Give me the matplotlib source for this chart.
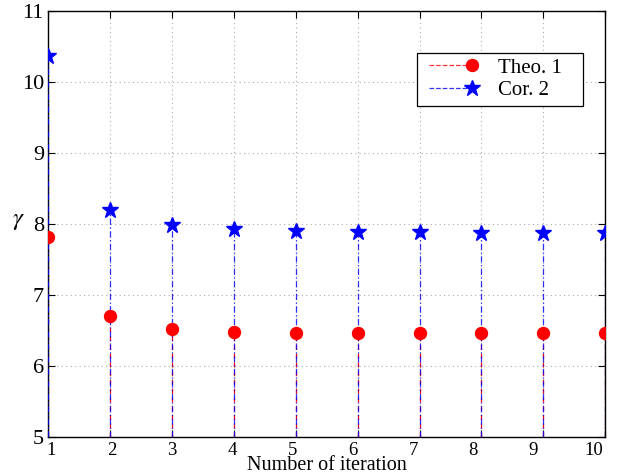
import matplotlib
matplotlib.use("Agg")
import matplotlib.pyplot as plt
import matplotlib.transforms as mtrans
from matplotlib.lines import Line2D
from matplotlib.legend_handler import HandlerLine2D

iterations = [1, 2, 3, 4, 5, 6, 7, 8, 9, 10]
theo1 = [7.82, 6.70, 6.52, 6.48, 6.47, 6.46, 6.46, 6.46, 6.46, 6.46]
cor2 = [10.36, 8.19, 7.99, 7.93, 7.90, 7.89, 7.88, 7.87, 7.87, 7.87]
yticks = [5, 6, 7, 8, 9, 10, 11]
xticklabels = [str(v) for v in iterations]

plt.rcParams['font.family'] = ['Liberation Serif', 'DejaVu Serif']
plt.rcParams['mathtext.fontset'] = 'stix'

fig = plt.figure(figsize=(6.24, 4.76), dpi=100)
ax = fig.add_axes([0.077, 0.082, 0.893, 0.895])

base = 5
for x, y in zip(iterations, theo1):
    ax.plot([x, x], [base, y], color='red', linestyle=(0, (4, 3)), linewidth=0.9, zorder=2)
for x, y in zip(iterations, cor2):
    ax.plot([x, x], [base, y], color='blue', linestyle=(0, (5, 2, 1, 2)), linewidth=0.9, alpha=0.8, zorder=3)

ax.plot(iterations, theo1, linestyle='none', marker='o', color='red', markersize=8.6, zorder=4)
ax.plot(iterations, cor2, linestyle='none', marker='*', color='blue', markersize=12, zorder=4)

h1, = ax.plot([], [], color='red', linestyle=(0, (3, 2)), linewidth=0.9, marker='o', markersize=8.6)
h2, = ax.plot([], [], color='blue', linestyle=(0, (3, 2)), linewidth=0.9, marker='*', markersize=12)


class EndMarkerHandler(HandlerLine2D):
    def create_artists(self, legend, orig_handle, xdescent, ydescent, width, height, fontsize, trans):
        y = height / 2 - ydescent
        x0 = -xdescent + 0.3 * fontsize
        line = Line2D([x0, width - xdescent], [y, y], color=orig_handle.get_color(),
                      linestyle=orig_handle.get_linestyle(), linewidth=orig_handle.get_linewidth(),
                      alpha=0.8, transform=trans)
        mk = Line2D([width - xdescent], [y], color=orig_handle.get_color(), linestyle='none',
                    marker=orig_handle.get_marker(), markersize=orig_handle.get_markersize(),
                    transform=trans)
        return [line, mk]


leg = ax.legend([h1, h2], ['Theo. 1\u00a0\u00a0\u00a0', 'Cor. 2\u00a0\u00a0\u00a0'],
                loc='upper right', bbox_to_anchor=(0.9605, 0.9014),
                fontsize=15, frameon=True, fancybox=False, edgecolor='black', framealpha=1,
                handlelength=2.4, handletextpad=1.25, borderpad=0.25, labelspacing=0.15,
                borderaxespad=0, handler_map={h1: EndMarkerHandler(), h2: EndMarkerHandler()})
leg.get_frame().set_linewidth(0.9)

ax.set_xlim(1, 10)
ax.set_ylim(5, 11)
ax.set_xticks(iterations)
ax.set_yticks(yticks)
ax.set_xticklabels([])
ax.set_yticklabels([str(v) for v in yticks], fontsize=16)

# x tick labels (slightly compressed spacing as in the reference)
lab_trans = (mtrans.Affine2D().scale(0.9731 / 9, 1).translate(0.0063 - 0.9731 / 9, 0)
             + ax.transAxes + mtrans.ScaledTranslation(0, -0.05, fig.dpi_scale_trans))
for x, lab in zip(iterations, xticklabels):
    ax.text(x, 0, lab, transform=lab_trans, ha='center', va='top', fontsize=13.5, clip_on=False)

ax.tick_params(direction='in', length=5, width=0.8, top=True, right=True, pad=3)
ax.grid(True, linestyle=(0, (1, 3)), color='#ababab', linewidth=0.8)
for sp in ax.spines.values():
    sp.set_linewidth(1.0)

ax.text(0.5, -0.0775, 'Number of iteration', transform=ax.transAxes, ha='center', va='baseline', fontsize=14.5)
ax.text(-0.053, 0.508, r'$\gamma$', transform=ax.transAxes, ha='center', va='center', fontsize=18)

fig.savefig('out.png', dpi=100)
